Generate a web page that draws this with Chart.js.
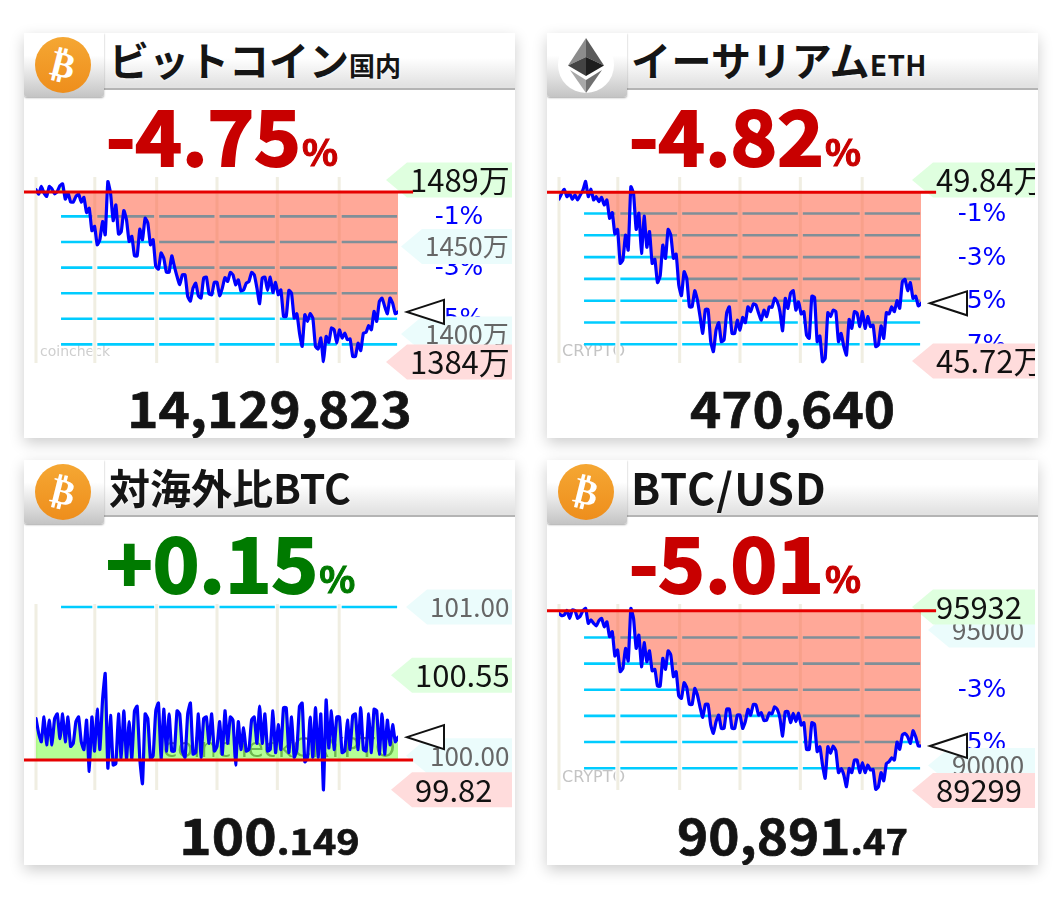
<!DOCTYPE html>
<html>
<head>
<meta charset="utf-8">
<script src="https://cdn.jsdelivr.net/npm/chart.js@4"></script>
<style>
html, body { margin: 0; padding: 0; background: #fff; overflow: hidden; }
.panel { position: absolute; width: 491px; height: 405px; background: #fff; box-shadow: 0 5px 14px rgba(0,0,0,.2); font-family: "Noto Sans CJK JP", sans-serif; overflow: hidden; }
.panel canvas { position: absolute; left: 0; top: 122px; }
.bar { position: absolute; left: 0; top: 0; width: 491px; height: 55px; background: linear-gradient(#fff 45%, #e2e2e2 95%); border-bottom: 2px solid #b4b4b4; }
.tab { position: absolute; left: 0; top: 0; width: 80px; height: 64px; background: linear-gradient(#fff 35%, #c4c4c4); box-shadow: 0 1px 2px rgba(0,0,0,.35); border-radius: 0 0 3px 3px; }
.icon { position: absolute; left: 11px; top: 4px; width: 56px; height: 56px; border-radius: 50%; background: linear-gradient(#f5a733, #ee8e1c); color: #fff; text-align: center; font: bold 36px/56px "DejaVu Sans"; }
.icon span { display: inline-block; transform: rotate(14deg); }
.eth { background: #fff; }
.eth svg { position: absolute; left: 0; top: 0; }
.title { position: absolute; left: 85px; top: -1px; height: 54px; line-height: 54px; font-weight: 700; font-size: 40px; color: #151515; white-space: nowrap; text-shadow: 0 0 3px #fff; }
.title small { font-size: 26px; }
.change { position: absolute; left: 82px; top: 50px; font-size: 76px; line-height: 100px; font-weight: 700; white-space: nowrap; -webkit-text-stroke: 2px currentColor; stroke-linejoin: round; transform: scaleX(1.04); transform-origin: 0 50%; }
.change small { font-size: 36px; margin-left: 1px; -webkit-text-stroke: 1px currentColor; }
.price { position: absolute; left: 0; width: 491px; top: 338px; text-align: center; font-size: 50px; line-height: 70px; font-weight: 700; color: #141414; white-space: nowrap; -webkit-text-stroke: .7px #141414; transform: scaleX(1.06); }
.price small { font-size: 36px; }
</style>
</head>
<body>
<div class="panel" id="p0" style="left:24px;top:33px">
  <canvas id="c0" width="491" height="250"></canvas>
  <div class="bar"></div><div class="tab"></div>
  <div class="icon"><span>₿</span></div>
  <div class="title">ビットコイン<small>国内</small></div>
  <div class="change" style="color:#c80000">-4.75<small>%</small></div>
  <div class="price">14,129,823</div>
</div>
<div class="panel" id="p1" style="left:547px;top:33px">
  <canvas id="c1" width="491" height="250"></canvas>
  <div class="bar"></div><div class="tab"></div>
  <div class="icon eth"><svg width="56" height="56">
    <polygon points="28,1 10,28.5 28,20" fill="#8c8c8c"/><polygon points="28,1 46,28.5 28,20" fill="#5a5a5a"/>
    <polygon points="10,28.5 28,20 28,39" fill="#444"/><polygon points="46,28.5 28,20 28,39" fill="#1e1e1e"/>
    <polygon points="12,33 28,43 28,56" fill="#a8a8a8"/><polygon points="44,33 28,43 28,56" fill="#707070"/>
  </svg></div>
  <div class="title" style="left:84px;letter-spacing:.4px">イーサリアム<small style="font-size:28px">ETH</small></div>
  <div class="change" style="color:#c80000">-4.82<small>%</small></div>
  <div class="price">470,640</div>
</div>
<div class="panel" id="p2" style="left:24px;top:460px">
  <canvas id="c2" width="491" height="250"></canvas>
  <div class="bar"></div><div class="tab"></div>
  <div class="icon"><span>₿</span></div>
  <div class="title" style="font-size:41px">対海外比BTC</div>
  <div class="change" style="color:#007a00">+0.15<small>%</small></div>
  <div class="price" style="transform:scaleX(1.1)">100<small>.149</small></div>
</div>
<div class="panel" id="p3" style="left:547px;top:460px">
  <canvas id="c3" width="491" height="250"></canvas>
  <div class="bar"></div><div class="tab"></div>
  <div class="icon"><span>₿</span></div>
  <div class="title" style="left:84px;font-size:43px;letter-spacing:1.2px">BTC/USD</div>
  <div class="change" style="color:#c80000">-5.01<small>%</small></div>
  <div class="price">90,891<small>.47</small></div>
</div>
<script>
// values, percent from the day's open (ratio chart: raw ratio)
const btcJpyValues = [0.04,-0.13,0.17,-0.09,-0.22,0.17,0.07,-0.12,-0.03,0.20,0.27,-0.33,-0.07,-0.44,-0.44,-0.22,-0.13,-0.44,-0.26,-0.85,-0.68,-1.56,-1.39,-2.11,-1.91,-1.20,-1.72,0.36,-0.09,-1.17,-0.55,-1.69,-1.61,-0.77,-1.13,-1.98,-1.78,-2.54,-2.54,-1.50,-1.91,-1.07,-1.26,-2.11,-1.91,-2.96,-3.06,-2.43,-2.63,-3.18,-3.18,-2.54,-2.96,-3.35,-3.67,-3.28,-3.28,-4.13,-4.31,-3.80,-3.61,-4.10,-4.19,-3.41,-3.37,-4.02,-4.06,-3.58,-3.58,-4.10,-3.80,-3.39,-3.54,-3.19,-3.28,-3.67,-3.48,-3.91,-3.87,-3.61,-3.54,-3.19,-3.28,-3.80,-4.41,-3.41,-3.37,-3.89,-3.37,-3.97,-3.58,-4.06,-3.87,-4.91,-4.91,-3.89,-4.00,-4.97,-4.80,-5.56,-6.08,-4.84,-5.10,-4.80,-4.97,-6.08,-6.18,-5.75,-6.67,-5.69,-5.92,-5.36,-5.43,-5.95,-5.43,-5.75,-5.56,-5.82,-5.79,-6.47,-6.47,-5.95,-6.24,-5.56,-5.53,-5.26,-5.43,-4.71,-5.10,-4.32,-4.19,-4.52,-4.80,-4.19,-4.39,-4.80,-4.73];
const ethJpyValues = [-0.34,-0.08,0.11,-0.23,-0.08,-0.35,-0.15,-0.38,-0.15,0.08,0.47,-0.23,0.11,-0.38,-0.23,-0.46,-0.26,-0.61,-0.38,-1.22,-0.96,-1.94,-1.73,-3.29,-3.13,-1.99,-2.68,0.23,-0.08,-1.73,-0.99,-2.83,-1.12,-2.55,-1.83,-3.29,-3.10,-4.17,-3.87,-2.45,-3.06,-1.73,-1.99,-3.06,-2.86,-4.28,-4.77,-3.67,-3.98,-5.28,-5.28,-4.54,-4.97,-5.73,-6.50,-5.40,-5.40,-6.88,-7.34,-6.35,-6.01,-6.88,-6.80,-5.55,-5.28,-6.50,-6.50,-5.89,-6.35,-5.77,-6.01,-5.28,-5.50,-5.15,-5.20,-5.58,-5.89,-5.43,-5.73,-5.28,-5.31,-4.89,-5.05,-5.50,-6.38,-4.89,-5.35,-4.66,-4.54,-5.43,-5.05,-5.61,-5.50,-6.58,-6.73,-4.79,-4.85,-6.88,-6.62,-7.80,-7.64,-5.55,-5.73,-5.43,-5.50,-6.88,-6.50,-7.11,-7.49,-5.86,-6.27,-5.50,-5.58,-6.19,-5.50,-6.27,-5.73,-6.19,-6.12,-7.11,-7.03,-6.15,-6.73,-5.55,-5.61,-5.28,-5.50,-5.00,-5.35,-4.13,-4.02,-4.54,-4.17,-4.89,-4.79,-5.24,-5.12];
const ratioValues = [100.28,100.185,100.13,100.29,100.11,100.27,100.11,100.28,100.31,100.15,100.31,100.13,100.29,100.10,100.12,100.26,100.29,100.13,100.08,100.27,99.94,100.29,100.07,100.34,100.08,100.40,100.57,99.96,100.30,99.98,99.99,100.31,100.02,100.33,100.02,100.26,100.02,100.33,100.36,100.02,99.86,100.31,100.28,100.02,100.04,100.33,100.38,100.02,100.34,100.07,100.31,100.07,100.07,100.33,100.31,100.07,100.03,100.31,100.38,100.05,100.06,100.31,100.03,100.28,100.29,100.12,100.31,100.07,100.10,100.26,100.05,100.33,100.12,100.29,100.27,99.98,100.26,100.08,100.22,100.07,100.08,100.27,100.29,100.12,100.36,100.12,100.31,100.07,100.08,100.33,100.06,100.24,100.08,100.35,100.35,100.06,100.29,100.03,100.08,100.36,100.38,100.00,100.03,100.29,100.03,100.35,100.03,100.31,99.82,100.40,100.09,100.33,100.08,100.29,100.29,100.06,100.07,100.27,100.08,100.30,100.31,100.08,100.35,100.08,100.07,100.31,100.06,100.34,100.33,100.05,100.31,100.05,100.27,100.11,100.24,100.13,100.16];
const btcUsdValues = [-0.08,-0.17,-0.14,0.03,-0.27,0.05,0.03,-0.27,-0.18,0.03,0.11,-0.46,-0.33,-0.46,-0.56,-0.36,-0.27,-0.59,-0.40,-0.97,-0.78,-1.71,-1.48,-2.31,-2.18,-1.42,-1.90,0.11,-0.27,-1.42,-0.91,-2.12,-1.20,-1.93,-1.51,-2.28,-2.22,-2.86,-2.86,-1.80,-2.22,-1.51,-1.67,-2.50,-2.31,-3.24,-3.33,-2.73,-2.92,-3.56,-3.56,-2.95,-3.20,-3.67,-4.06,-3.56,-3.56,-4.35,-4.67,-4.22,-3.97,-4.48,-4.48,-3.74,-3.74,-4.48,-4.48,-3.97,-3.97,-4.48,-4.22,-3.75,-3.97,-3.56,-3.58,-3.97,-3.88,-4.18,-4.16,-3.88,-3.93,-3.65,-3.75,-4.09,-4.77,-3.84,-3.84,-4.26,-3.90,-4.22,-3.90,-4.35,-4.26,-5.28,-5.28,-4.26,-4.32,-5.37,-5.18,-5.88,-6.39,-5.18,-5.43,-5.15,-5.33,-6.17,-6.01,-6.26,-6.71,-6.01,-6.17,-5.69,-5.69,-6.17,-5.79,-6.17,-5.88,-6.07,-6.05,-6.81,-6.71,-6.17,-6.48,-5.82,-5.75,-5.60,-5.69,-5.00,-5.28,-4.73,-4.67,-4.80,-5.05,-4.57,-4.80,-5.15,-5.15];

// hour marks of the 24h window
const hourMarks = [0, 3.9, 8, 12, 16, 20.1];

// horizontal levels
const btcJpyLevels = [-1, -2, -3, -4, -5, -6];
const ethJpyLevels = [-1, -2, -3, -4, -5, -6, -7];
const ratioLevels = [101];
const btcUsdLevels = [-1, -2, -3, -4, -5, -6];

// blue percent labels
const btcJpyTicks = [-1, -3, -5, -7];
const ethJpyTicks = [-1, -3, -5, -7];
const ratioTicks = [];
const btcUsdTicks = [-1, -3, -5, -7];

// price tags: label and level on the value axis
const btcJpyTagLabels = ['1450万', '1400万'];
const btcJpyTagLevels = [-2.18, -5.59];
const btcJpyHighLow = ['1489万', '1384万'];
const btcJpyHighLowLevels = [0.42, -6.69];
const ethJpyTagLabels = [];
const ethJpyTagLevels = [];
const ethJpyHighLow = ['49.84万', '45.72万'];
const ethJpyHighLowLevels = [0.54, -7.77];
const ratioTagLabels = ['101.00', '100.00'];
const ratioTagLevels = [101.0, 100.04];
const ratioHighLow = ['100.55', '99.82'];
const ratioHighLowLevels = [100.56, 99.82];
const btcUsdTagLabels = ['95000', '90000'];
const btcUsdTagLevels = [-0.72, -5.9];
const btcUsdHighLow = ['95932', '89299'];
const btcUsdHighLowLevels = [0.16, -6.85];

const panels = [
    { id: 'c0', values: btcJpyValues, levels: btcJpyLevels, ticks: btcJpyTicks, tagLabels: btcJpyTagLabels, tagLevels: btcJpyTagLevels, hl: btcJpyHighLow, hlLevels: btcJpyHighLowLevels,
      base: -0.05, min: -8.367, max: 1.398, hlLeft: 386, tagLeft: 401, marks: [['coincheck', 16, 197, '14px "DejaVu Sans"', '#cfcfcf']] },
    { id: 'c1', values: ethJpyValues, levels: ethJpyLevels, ticks: ethJpyTicks, tagLabels: ethJpyTagLabels, tagLevels: ethJpyTagLevels, hl: ethJpyHighLow, hlLevels: ethJpyHighLowLevels,
      base: -0.02, min: -9.785, max: 1.683, hlLeft: 389, tagLeft: 405, marks: [['CRYPTO', 15, 197, '16px "DejaVu Sans"', '#c4c4c4']] },
    { id: 'c2', values: ratioValues, levels: ratioLevels, ticks: ratioTicks, tagLabels: ratioTagLabels, tagLevels: ratioTagLevels, hl: ratioHighLow, hlLevels: ratioHighLowLevels,
      base: 100.013, min: 99.548, max: 101.161, hlLeft: 391, tagLeft: 406, marks: [['coincheck', 139, 168, '26px "DejaVu Sans"', '#707070'], ['CRYPTO', 269, 168, '26px "DejaVu Sans"', '#707070']] },
    { id: 'c3', values: btcUsdValues, levels: btcUsdLevels, ticks: btcUsdTicks, tagLabels: btcUsdTagLabels, tagLevels: btcUsdTagLevels, hl: btcUsdHighLow, hlLevels: btcUsdHighLowLevels,
      base: 0.02, min: -8.44, max: 1.12, hlLeft: 389, tagLeft: 405, marks: [['CRYPTO', 15, 196, '16px "DejaVu Sans"', '#c4c4c4']] }
];

function drawTag(ctx, label, y, left, font, fill, color) {
    const hh = 17.5;
    ctx.fillStyle = fill;
    ctx.beginPath();
    ctx.moveTo(left - 24, y);
    ctx.lineTo(left - 3, y - hh);
    ctx.lineTo(488, y - hh);
    ctx.lineTo(488, y + hh);
    ctx.lineTo(left - 3, y + hh);
    ctx.closePath();
    ctx.fill();
    ctx.save();
    ctx.beginPath();
    ctx.rect(0, y - hh, 488, hh * 2);
    ctx.clip();
    ctx.fillStyle = color;
    ctx.font = font;
    ctx.textAlign = 'left';
    ctx.textBaseline = 'middle';
    ctx.fillText(label, left, y);
    ctx.restore();
}

// levels, hour marks, labels and tags go under the datasets, the marker on top
const boardPlugin = {
    id: 'board',
    beforeDatasetsDraw(chart, args, opts) {
        const ctx = chart.ctx, x = chart.scales.x, y = chart.scales.y, p = opts.panel;
        ctx.save();
        p.marks.forEach(function(m) {
            ctx.font = m[3];
            ctx.fillStyle = m[4];
            ctx.textAlign = 'left';
            ctx.textBaseline = 'middle';
            ctx.fillText(m[0], m[1], m[2]);
        });
        ctx.strokeStyle = '#00ccff';
        ctx.lineWidth = 2.6;
        p.levels.forEach(function(v) {
            ctx.beginPath();
            ctx.moveTo(x.getPixelForValue(1.66), y.getPixelForValue(v));
            ctx.lineTo(x.getPixelForValue(23.94), y.getPixelForValue(v));
            ctx.stroke();
        });
        const top = 604 - 582, bottom = 790 - 582;
        hourMarks.forEach(function(h) {
            const px = x.getPixelForValue(h);
            ctx.fillStyle = '#fff';
            ctx.fillRect(px - 2.5, top, 5, bottom - top);
            ctx.fillStyle = '#f0eee2';
            ctx.fillRect(px - 1.5, top, 3, bottom - top);
        });
        ctx.fillStyle = '#0000ff';
        ctx.font = '25px "DejaVu Sans"';
        ctx.textAlign = 'center';
        ctx.textBaseline = 'middle';
        p.ticks.forEach(function(t) {
            ctx.fillText(t + '%', 435, y.getPixelForValue(t) + 1);
        });
        p.tagLabels.forEach(function(label, i) {
            drawTag(ctx, label, y.getPixelForValue(p.tagLevels[i]), p.tagLeft, '26px "Noto Sans CJK JP"', '#ebfcfc', '#666');
        });
        drawTag(ctx, p.hl[0], y.getPixelForValue(p.hlLevels[0]), p.hlLeft, '31px "Noto Sans CJK JP"', '#dfffdf', '#111');
        drawTag(ctx, p.hl[1], y.getPixelForValue(p.hlLevels[1]), p.hlLeft, '31px "Noto Sans CJK JP"', '#ffdcdc', '#111');
        ctx.restore();
    },
    afterDatasetsDraw(chart, args, opts) {
        const ctx = chart.ctx, p = opts.panel;
        const last = p.values[p.values.length - 1];
        const ax = chart.scales.x.getPixelForValue(24) + 9, ay = chart.scales.y.getPixelForValue(last);
        ctx.save();
        ctx.fillStyle = '#fff';
        ctx.strokeStyle = '#111';
        ctx.lineWidth = 2;
        ctx.beginPath();
        ctx.moveTo(ax, ay);
        ctx.lineTo(ax + 37, ay - 12);
        ctx.lineTo(ax + 37, ay + 12);
        ctx.closePath();
        ctx.fill();
        ctx.stroke();
        ctx.restore();
    }
};

panels.forEach(function(p) {
    const n = p.values.length;
    new Chart(document.getElementById(p.id), {
        type: 'line',
        data: {
            datasets: [
                {
                    data: [{ x: -0.8, y: p.base }, { x: 25, y: p.base }],
                    borderColor: '#e60000',
                    borderWidth: 3,
                    pointRadius: 0,
                    clip: false
                },
                {
                    data: p.values.map(function(v, i) { return { x: i / (n - 1) * 24, y: v }; }),
                    borderColor: '#0000ff',
                    borderWidth: 3.2,
                    borderJoinStyle: 'round',
                    borderCapStyle: 'round',
                    pointRadius: 0,
                    tension: 0.15,
                    fill: { target: { value: p.base }, above: 'rgba(105,255,45,0.5)', below: 'rgba(255,81,49,0.5)' }
                }
            ]
        },
        options: {
            responsive: false,
            animation: false,
            devicePixelRatio: 1,
            layout: { padding: { left: 12, right: 117, top: 0, bottom: 0 } },
            plugins: { legend: { display: false }, tooltip: { enabled: false }, board: { panel: p } },
            scales: {
                x: { type: 'linear', display: false, min: 0, max: 24 },
                y: { display: false, min: p.min, max: p.max }
            }
        },
        plugins: [boardPlugin]
    });
});
</script>
</body>
</html>
